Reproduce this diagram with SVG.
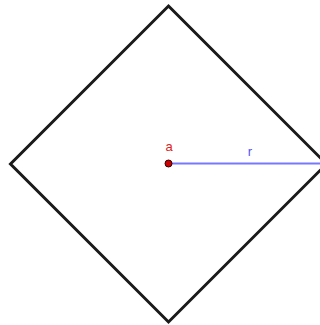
<svg xmlns="http://www.w3.org/2000/svg" width="320" height="325" viewBox="0 0 320 325">
<style>
.shape{fill:none;stroke:#1a1a1a;stroke-width:3;stroke-linejoin:miter}
.seg{stroke:#7878ff;stroke-width:2}
.lbl{font-family:"Liberation Sans",Arial,sans-serif;font-size:13px}
</style>
<rect width="320" height="325" fill="#ffffff"/>
<g id="square">
<polygon class="shape" points="168.5,6 326.5,164 168.5,322 10.5,164"/>
</g>
<g id="connectors">
<line class="seg" x1="168.5" y1="163.5" x2="322" y2="163.5"/>
<text class="lbl" x="250" y="156" fill="#5050ff" text-anchor="middle">r</text>
</g>
<g id="point-a">
<circle cx="168.5" cy="163.5" r="3.5" fill="#cc0000" stroke="#330000" stroke-width="1"/>
<text class="lbl" x="169" y="151" fill="#e02020" text-anchor="middle">a</text>
</g>
</svg>
